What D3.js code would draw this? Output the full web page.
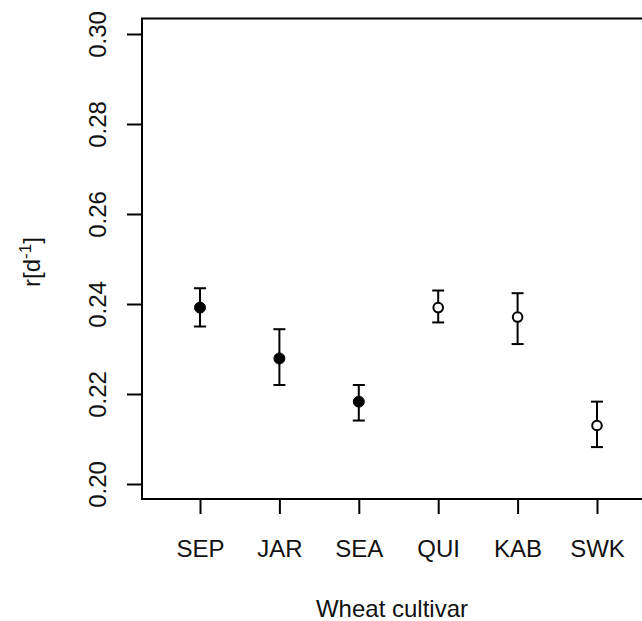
<!DOCTYPE html>
<html>
<head>
<meta charset="utf-8">
<script src="https://cdn.jsdelivr.net/npm/d3@7"></script>
<style>
    html, body { margin: 0; padding: 0; background: #fff; }
    svg { display: block; }
    text { font-family: "Liberation Sans", Arial, sans-serif; fill: #111; }
</style>
</head>
<body>
<script>
let cultivars = ['SEP', 'JAR', 'SEA', 'QUI', 'KAB', 'SWK'];
let rates = [0.2392, 0.2279, 0.2183, 0.2392, 0.2371, 0.2130];
let lowerRates = [0.2350, 0.2220, 0.2141, 0.2359, 0.2311, 0.2082];
let upperRates = [0.2435, 0.2344, 0.2220, 0.2430, 0.2424, 0.2183];
let filledMarkers = [true, true, true, false, false, false];
let yTicks = [0.20, 0.22, 0.24, 0.26, 0.28, 0.30];
let xTitle = 'Wheat cultivar';

let width = 642, height = 621;
// plot box runs off the right edge of the picture
let box = {left: 142, top: 18.5, right: 700, bottom: 499};
let fontSize = 24;

let svg = d3.select('body').append('svg')
    .attr('width', width)
    .attr('height', height);

let xScale = d3.scalePoint()
    .domain(cultivars)
    .range([200, 597]);

let yScale = d3.scaleLinear()
    .domain([0.20, 0.30])
    .range([484, 34]);

svg.append('rect')
    .attr('x', box.left)
    .attr('y', box.top)
    .attr('width', box.right - box.left)
    .attr('height', box.bottom - box.top)
    .attr('fill', 'none')
    .attr('stroke', '#000')
    .attr('stroke-width', 2);

// y axis, labels turned like in R (las = 0)
let yAxis = d3.axisLeft(yScale)
    .tickValues(yTicks)
    .tickSize(15)
    .tickFormat(d3.format('.2f'));

let yAxisG = svg.append('g')
    .attr('transform', `translate(${box.left}, 0)`)
    .call(yAxis);
yAxisG.select('.domain').remove();
yAxisG.selectAll('.tick line').attr('stroke', '#000').attr('stroke-width', 2);
yAxisG.selectAll('.tick text')
    .attr('x', null).attr('dy', null)
    .attr('text-anchor', 'middle')
    .attr('transform', 'translate(-36, 0) rotate(-90)')
    .style('font-size', fontSize + 'px')
    .style('font-family', '"Liberation Sans", Arial, sans-serif')
    .attr('fill', '#111');

let xAxis = d3.axisBottom(xScale)
    .tickSize(15);

let xAxisG = svg.append('g')
    .attr('transform', `translate(0, ${box.bottom})`)
    .call(xAxis);
xAxisG.select('.domain').remove();
xAxisG.selectAll('.tick line').attr('stroke', '#000').attr('stroke-width', 2);
xAxisG.selectAll('.tick text')
    .attr('y', 58).attr('dy', null)
    .style('font-size', fontSize + 'px')
    .style('font-family', '"Liberation Sans", Arial, sans-serif')
    .attr('fill', '#111');

let dataset = cultivars.map((name, i) => {
    return {name: name, rate: rates[i], lower: lowerRates[i], upper: upperRates[i], filled: filledMarkers[i]};
});

let bars = svg.append('g').selectAll('g')
    .data(dataset)
    .join('g')
    .attr('stroke', '#000')
    .attr('stroke-width', 2);

bars.append('line')
    .attr('x1', d => xScale(d.name)).attr('x2', d => xScale(d.name))
    .attr('y1', d => yScale(d.lower)).attr('y2', d => yScale(d.upper));
bars.append('line')
    .attr('x1', d => xScale(d.name) - 6).attr('x2', d => xScale(d.name) + 6)
    .attr('y1', d => yScale(d.upper)).attr('y2', d => yScale(d.upper));
bars.append('line')
    .attr('x1', d => xScale(d.name) - 6).attr('x2', d => xScale(d.name) + 6)
    .attr('y1', d => yScale(d.lower)).attr('y2', d => yScale(d.lower));
bars.append('circle')
    .attr('cx', d => xScale(d.name))
    .attr('cy', d => yScale(d.rate))
    .attr('r', d => d.filled ? 5.5 : 4.8)
    .attr('fill', d => d.filled ? '#000' : '#fff')
    .attr('stroke-width', d => d.filled ? 1 : 2);

// axis titles
svg.append('text')
    .attr('x', 392)
    .attr('y', 617)
    .attr('text-anchor', 'middle')
    .style('font-size', fontSize + 'px')
    .text(xTitle);

let yTitle = svg.append('text')
    .attr('text-anchor', 'middle')
    .attr('transform', 'translate(40, 262) rotate(-90)')
    .style('font-size', fontSize + 'px');
yTitle.append('tspan').text('r[d');
yTitle.append('tspan').attr('dy', -9).style('font-size', '17px').text('-1');
yTitle.append('tspan').attr('dy', 9).text(']');
</script>
</body>
</html>
